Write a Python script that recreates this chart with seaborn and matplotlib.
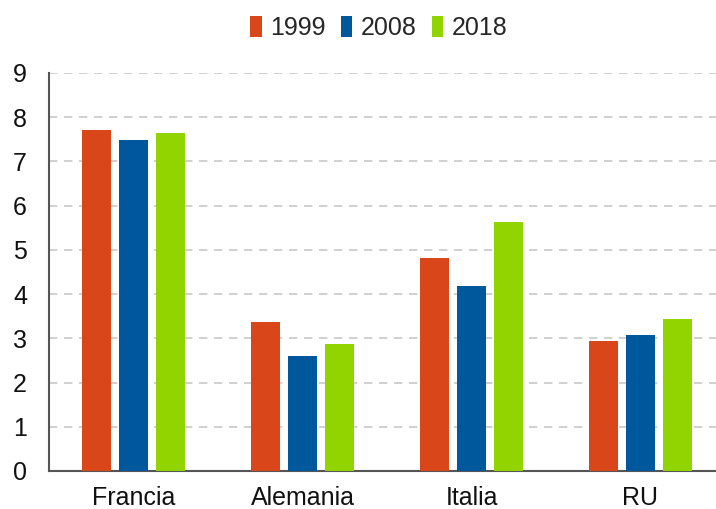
import matplotlib
matplotlib.use("Agg")
import matplotlib.pyplot as plt
import seaborn as sns
import pandas as pd

countries = ["Francia", "Alemania", "Italia", "RU"]
years = ["1999", "2008", "2018"]
v1999 = [7.71, 3.36, 4.82, 2.94]
v2008 = [7.49, 2.60, 4.19, 3.08]
v2018 = [7.64, 2.87, 5.62, 3.43]
yticks = [0, 1, 2, 3, 4, 5, 6, 7, 8, 9]

rows = []
for yr, vals in zip(years, [v1999, v2008, v2018]):
    for c, v in zip(countries, vals):
        rows.append({"country": c, "year": yr, "value": v})
df = pd.DataFrame(rows)

sns.set_theme(style="white")
plt.rcParams['font.family'] = ['Liberation Sans', 'DejaVu Sans']

fig = plt.figure(figsize=(7.16, 5.09), dpi=100)
ax = fig.add_axes([49/716, 1 - 471/509, 1 - 49/716, (471 - 73)/509])

palette = {"1999": "#D8461A", "2008": "#00589C", "2018": "#92D400"}
sns.barplot(data=df, x="country", y="value", hue="year", hue_order=years,
            order=countries, palette=palette, width=0.66, gap=0.22,
            saturation=1, ax=ax, edgecolor="none", zorder=3)

ax.set_ylim(0, 9)
ax.set_xlim(-0.5, (716 - 49) / 169 - 0.5)
ax.set_yticks(yticks)
ax.set_yticklabels([str(t) for t in yticks])
ax.set_xlabel("")
ax.set_ylabel("")
ax.yaxis.grid(True, linestyle=(0, (5, 4)), color="#C8C8C8", linewidth=1.2, zorder=0)
ax.xaxis.grid(False)
for s in ["top", "right"]:
    ax.spines[s].set_visible(False)
for s in ["left", "bottom"]:
    ax.spines[s].set_color("#555555")
    ax.spines[s].set_linewidth(1.5)
ax.tick_params(axis="both", length=0, labelsize=18, colors="#111111")
ax.tick_params(axis="x", pad=11)
ax.tick_params(axis="y", pad=26)
for lab in ax.get_yticklabels():
    lab.set_horizontalalignment("left")

ax.legend(loc="center", bbox_to_anchor=(379/716, 1 - 28/509), bbox_transform=fig.transFigure,
          ncol=3, frameon=False, fontsize=18, handlelength=0.45, handleheight=0.95,
          handletextpad=0.35, columnspacing=0.6, borderaxespad=0.0, title=None)

fig.savefig("out.png", dpi=100)
